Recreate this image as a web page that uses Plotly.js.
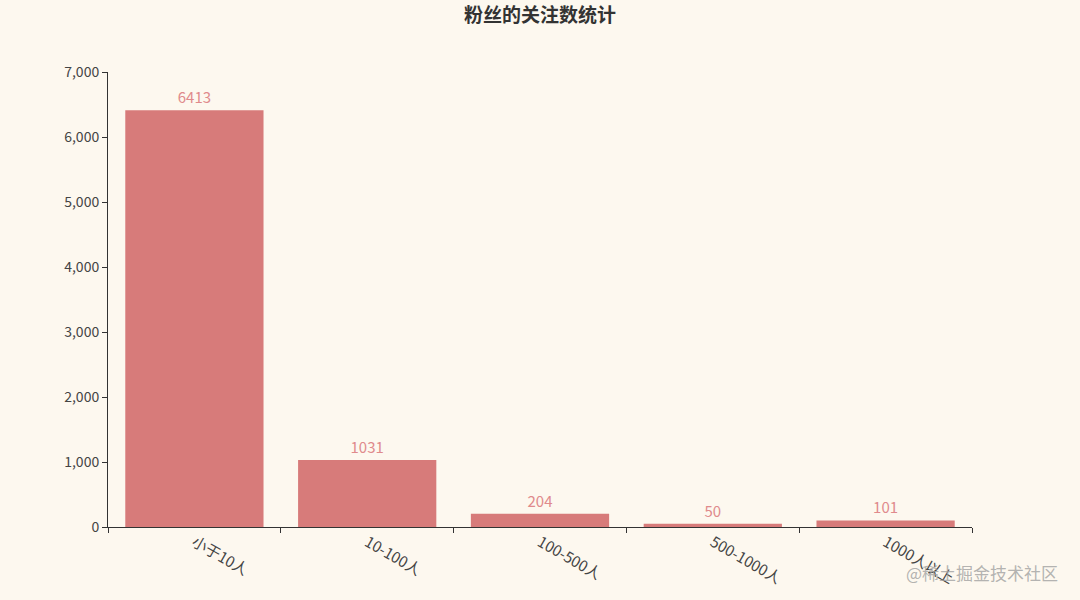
<!DOCTYPE html>
<html>
<head>
<meta charset="utf-8">
<script src="https://cdn.plot.ly/plotly-3.0.1.min.js"></script>
<style>
  body { margin: 0; background: #fdf8ef; }
  #chart { width: 1080px; height: 600px; }
</style>
</head>
<body>
<div id="chart"></div>
<script>
const categories = ["小于10人", "10-100人", "100-500人", "500-1000人", "1000人以上"];
const followCounts = [6413, 1031, 204, 50, 101];
const yTicks = [0, 1000, 2000, 3000, 4000, 5000, 6000, 7000];

const font = "'Noto Sans CJK SC', 'Noto Sans', sans-serif";

var data = [{
    x: categories,
    y: followCounts,
    type: 'bar',
    marker: { color: '#d77b7a' },
    text: followCounts.map(String),
    textposition: 'outside',
    cliponaxis: false,
    textfont: { color: '#e08a8c', size: 15, family: font },
    hoverinfo: 'x+y'
}];

var layout = {
    width: 1080,
    height: 600,
    paper_bgcolor: '#fdf8ef',
    plot_bgcolor: '#fdf8ef',
    font: { family: font, color: '#444', size: 13 },
    margin: { l: 108, r: 108, t: 72, b: 73 },
    bargap: 0.2,
    showlegend: false,
    title: {
        text: '<b>粉丝的关注数统计</b>',
        x: 0.5,
        y: 0.975,
        yanchor: 'middle',
        font: { size: 19, color: '#333', family: font }
    },
    xaxis: {
        type: 'category',
        showline: true,
        linecolor: '#333',
        linewidth: 1,
        ticks: 'outside',
        tickson: 'boundaries',
        ticklen: 5,
        tickcolor: '#333',
        tickangle: 30,
        tickfont: { size: 15, color: '#444' },
        showgrid: false,
        zeroline: false
    },
    yaxis: {
        range: [0, 7000],
        tickvals: yTicks,
        tickformat: ',d',
        showline: true,
        linecolor: '#333',
        linewidth: 1,
        ticks: 'outside',
        ticklen: 5,
        tickcolor: '#333',
        tickfont: { size: 14, color: '#444' },
        showgrid: false,
        zeroline: false
    },
    annotations: [{
        text: '@稀土掘金技术社区',
        xref: 'paper', yref: 'paper',
        x: 1.102, y: -0.099,
        xanchor: 'right', yanchor: 'middle',
        showarrow: false,
        font: { size: 17, color: 'rgba(160,160,160,0.8)', family: font }
    }]
};

Plotly.newPlot('chart', data, layout, { displayModeBar: false });
</script>
</body>
</html>
